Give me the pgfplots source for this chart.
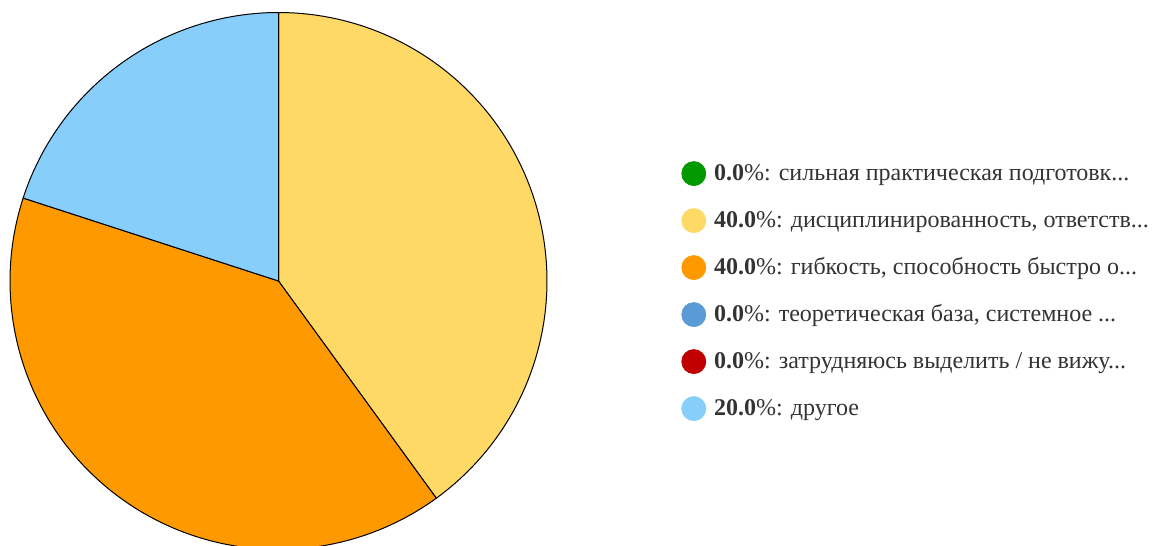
\documentclass[border=0pt]{standalone}
\usepackage{fontspec}
\setmainfont{Liberation Serif}
\usepackage{pgfplots}
\pgfplotsset{compat=1.18}
\definecolor{cGreen}{HTML}{009900}
\definecolor{cYellow}{HTML}{FFD966}
\definecolor{cOrange}{HTML}{FF9900}
\definecolor{cBlue}{HTML}{5B9BD5}
\definecolor{cRed}{HTML}{C00000}
\definecolor{cLight}{HTML}{87CEFA}
\definecolor{txt}{HTML}{333333}
% slice shares in percent (clockwise from 12 o'clock): 0, 40, 40, 0, 0, 20
\newcommand{\pieslice}[3]{%
  \addplot[fill=#3, draw=black, line width=0.5pt, domain=#1:#2, samples=90, forget plot]
    ({cos(x)},{sin(x)}) -- (axis cs:0,0) -- cycle;}
\begin{document}
\begin{tikzpicture}
\useasboundingbox (0,0) rectangle (576pt,-273pt);
\clip (0,0) rectangle (576pt,-273pt);
\begin{axis}[
  at={(139.25pt,-140.5pt)}, anchor=center,
  hide axis, scale only axis, width=268.5pt, height=268.5pt,
  xmin=-1, xmax=1, ymin=-1, ymax=1, clip=false,
  legend style={at={(1.2495,0.4812)}, anchor=west, draw=none, fill=none,
    inner sep=0pt, row sep=11.1pt, column sep=4pt,
    font=\fontsize{12}{14}\selectfont\color{txt},
    nodes={inner sep=0pt, anchor=west}},
  legend cell align=left,
  legend image code/.code={\fill[#1] (6pt,0pt) circle (6pt);},
]
% 40% : 90 -> -54 ; 40% : -54 -> -198 ; 20% : -198 -> -270
\pieslice{90}{-54}{cYellow}
\pieslice{-54}{-198}{cOrange}
\pieslice{-198}{-270}{cLight}
\addlegendimage{cGreen}
\addlegendentry{\textbf{0.0}\%: сильная практическая подготовк...}
\addlegendimage{cYellow}
\addlegendentry{\textbf{40.0}\%: дисциплинированность, ответств...}
\addlegendimage{cOrange}
\addlegendentry{\textbf{40.0}\%: гибкость, способность быстро о...}
\addlegendimage{cBlue}
\addlegendentry{\textbf{0.0}\%: теоретическая база, системное ...}
\addlegendimage{cRed}
\addlegendentry{\textbf{0.0}\%: затрудняюсь выделить / не вижу...}
\addlegendimage{cLight}
\addlegendentry{\textbf{20.0}\%: другое}
\end{axis}
\end{tikzpicture}
\end{document}
